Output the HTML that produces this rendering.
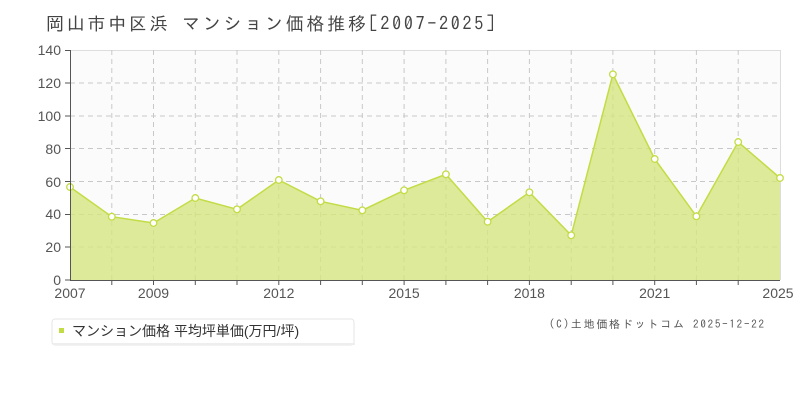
<!DOCTYPE html>
<html><head><meta charset="utf-8"><style>
body{margin:0;background:#fff;width:800px;height:400px;overflow:hidden;font-family:"Liberation Sans","Noto Sans CJK JP",sans-serif}
</style></head><body>
<svg width="800" height="400" xmlns="http://www.w3.org/2000/svg" font-family="'Liberation Sans','Noto Sans CJK JP',sans-serif">
<text x="46" y="30" font-size="18" fill="#444" font-family="IPAGothic,'Noto Sans CJK JP',sans-serif" textLength="449" lengthAdjust="spacing">岡山市中区浜 マンション価格推移[2007-2025]</text>
<rect x="70" y="50" width="710" height="230" fill="#fcfbfc"/>
<line x1="70" y1="50.5" x2="780" y2="50.5" stroke="#ddd"/>
<line x1="780.5" y1="50" x2="780.5" y2="280" stroke="#ddd"/>
<g stroke="#c8c8c8" stroke-dasharray="5,4" stroke-width="1">
<line x1="70" y1="83" x2="780" y2="83"/><line x1="70" y1="116" x2="780" y2="116"/><line x1="70" y1="148.5" x2="780" y2="148.5"/><line x1="70" y1="181.5" x2="780" y2="181.5"/><line x1="70" y1="214.5" x2="780" y2="214.5"/><line x1="70" y1="247" x2="780" y2="247"/>
<line x1="111.8" y1="50" x2="111.8" y2="280"/><line x1="153.5" y1="50" x2="153.5" y2="280"/><line x1="195.3" y1="50" x2="195.3" y2="280"/><line x1="237" y1="50" x2="237" y2="280"/><line x1="278.8" y1="50" x2="278.8" y2="280"/><line x1="320.6" y1="50" x2="320.6" y2="280"/><line x1="362.3" y1="50" x2="362.3" y2="280"/><line x1="404.1" y1="50" x2="404.1" y2="280"/><line x1="445.9" y1="50" x2="445.9" y2="280"/><line x1="487.6" y1="50" x2="487.6" y2="280"/><line x1="529.4" y1="50" x2="529.4" y2="280"/><line x1="571.2" y1="50" x2="571.2" y2="280"/><line x1="612.9" y1="50" x2="612.9" y2="280"/><line x1="654.7" y1="50" x2="654.7" y2="280"/><line x1="696.4" y1="50" x2="696.4" y2="280"/><line x1="738.2" y1="50" x2="738.2" y2="280"/>
</g>
<polygon fill="#d4e680" fill-opacity="0.8" points="70,280 70,187 111.8,216.7 153.5,223 195.3,198 237,209.3 278.8,180 320.6,201.3 362.3,210.3 404.1,190.3 445.9,174.3 487.6,221.7 529.4,192.3 571.2,235.3 612.9,74.3 654.7,159 696.4,216.3 738.2,142 780,178 780,280"/>
<polyline fill="none" stroke="#c2dc45" stroke-width="1.5" points="70,187 111.8,216.7 153.5,223 195.3,198 237,209.3 278.8,180 320.6,201.3 362.3,210.3 404.1,190.3 445.9,174.3 487.6,221.7 529.4,192.3 571.2,235.3 612.9,74.3 654.7,159 696.4,216.3 738.2,142 780,178"/>
<g fill="#fff" stroke="#c2dc45" stroke-width="1.3">
<circle cx="70" cy="187" r="3.3"/><circle cx="111.8" cy="216.7" r="3.3"/><circle cx="153.5" cy="223" r="3.3"/><circle cx="195.3" cy="198" r="3.3"/><circle cx="237" cy="209.3" r="3.3"/><circle cx="278.8" cy="180" r="3.3"/><circle cx="320.6" cy="201.3" r="3.3"/><circle cx="362.3" cy="210.3" r="3.3"/><circle cx="404.1" cy="190.3" r="3.3"/><circle cx="445.9" cy="174.3" r="3.3"/><circle cx="487.6" cy="221.7" r="3.3"/><circle cx="529.4" cy="192.3" r="3.3"/><circle cx="571.2" cy="235.3" r="3.3"/><circle cx="612.9" cy="74.3" r="3.3"/><circle cx="654.7" cy="159" r="3.3"/><circle cx="696.4" cy="216.3" r="3.3"/><circle cx="738.2" cy="142" r="3.3"/><circle cx="780" cy="178" r="3.3"/>
</g>
<g stroke="#555" stroke-width="1">
<line x1="70.5" y1="50" x2="70.5" y2="280"/><line x1="70" y1="280.5" x2="780" y2="280.5"/>
<line x1="65" y1="50.5" x2="70" y2="50.5"/><line x1="65" y1="83" x2="70" y2="83"/><line x1="65" y1="116" x2="70" y2="116"/><line x1="65" y1="148.5" x2="70" y2="148.5"/><line x1="65" y1="181.5" x2="70" y2="181.5"/><line x1="65" y1="214.5" x2="70" y2="214.5"/><line x1="65" y1="247" x2="70" y2="247"/><line x1="65" y1="280" x2="70" y2="280"/>
<line x1="111.8" y1="280" x2="111.8" y2="285"/><line x1="153.5" y1="280" x2="153.5" y2="285"/><line x1="195.3" y1="280" x2="195.3" y2="285"/><line x1="237" y1="280" x2="237" y2="285"/><line x1="278.8" y1="280" x2="278.8" y2="285"/><line x1="320.6" y1="280" x2="320.6" y2="285"/><line x1="362.3" y1="280" x2="362.3" y2="285"/><line x1="404.1" y1="280" x2="404.1" y2="285"/><line x1="445.9" y1="280" x2="445.9" y2="285"/><line x1="487.6" y1="280" x2="487.6" y2="285"/><line x1="529.4" y1="280" x2="529.4" y2="285"/><line x1="571.2" y1="280" x2="571.2" y2="285"/><line x1="612.9" y1="280" x2="612.9" y2="285"/><line x1="654.7" y1="280" x2="654.7" y2="285"/><line x1="696.4" y1="280" x2="696.4" y2="285"/><line x1="738.2" y1="280" x2="738.2" y2="285"/>
</g>
<g font-size="14" fill="#555" text-anchor="end">
<text x="61" y="55">140</text><text x="61" y="88">120</text><text x="61" y="121">100</text><text x="61" y="154">80</text><text x="61" y="187">60</text><text x="61" y="219">40</text><text x="61" y="252">20</text><text x="61" y="285">0</text>
</g>
<g font-size="14" fill="#555" text-anchor="middle">
<text x="70" y="298">2007</text><text x="153.5" y="298">2009</text><text x="278.8" y="298">2012</text><text x="404.1" y="298">2015</text><text x="529.4" y="298">2018</text><text x="654.7" y="298">2021</text><text x="778" y="298">2025</text>
</g>
<rect x="52" y="319" width="302" height="26" rx="3" fill="#fff" stroke="#e6e6e6"/>
<rect x="53" y="343" width="302" height="2" fill="#eee"/>
<rect x="59" y="328" width="5" height="5" fill="#c2dc45"/>
<text x="72" y="336" font-size="14" fill="#333">マンション価格 平均坪単価(万円/坪)</text>
<text x="549" y="328" font-size="11" fill="#555" font-family="IPAGothic,'Noto Sans CJK JP',monospace" textLength="215" lengthAdjust="spacing">(C)土地価格ドットコム 2025-12-22</text>
</svg>
</body></html>
